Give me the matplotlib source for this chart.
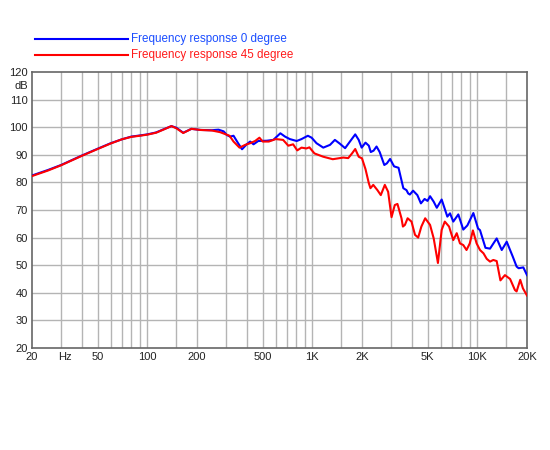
import matplotlib
matplotlib.use("Agg")
import matplotlib.pyplot as plt
from matplotlib.lines import Line2D

plt.rcParams['font.family'] = ['Liberation Sans', 'DejaVu Sans']

# frequency response, 0 degree (Hz, dB)
freq_0 = [20, 25, 30, 40, 50, 60, 70, 80, 90, 100, 113, 125, 140, 150, 165, 185, 210, 246, 270, 290,
          303, 317, 333, 355, 375, 400, 420, 440, 470, 530, 580, 640, 683, 730, 804, 860, 940, 990,
          1060, 1165, 1280, 1370, 1470, 1580, 1700, 1820, 1910, 1990, 2100, 2200, 2260, 2350, 2450,
          2560, 2730, 2830, 2960, 3130, 3330, 3560, 3720, 3810, 3900, 4080, 4330, 4550, 4790, 4990,
          5170, 5440, 5680, 6080, 6580, 6830, 7150, 7670, 8220, 8700, 9460, 10100, 10380, 11200,
          11940, 13100, 14060, 15070, 16400, 17300, 17800, 19000, 20000]
db_0 = [82.5, 84.5, 86.3, 89.7, 92.2, 94.2, 95.6, 96.6, 97.0, 97.4, 98.1, 99.2, 100.4, 99.8, 98.0,
        99.4, 99.0, 98.9, 99.1, 98.5, 97.2, 96.6, 96.9, 94.2, 92.0, 93.8, 94.8, 93.8, 95.0, 95.1,
        95.4, 97.8, 96.6, 95.7, 95.0, 95.7, 96.9, 96.2, 94.2, 92.6, 93.6, 95.4, 94.0, 92.4, 95.0,
        97.4, 95.4, 92.6, 94.4, 93.3, 91.0, 91.5, 93.0, 91.0, 86.3, 86.9, 88.5, 85.8, 85.3, 77.9,
        77.2, 76.0, 75.6, 77.0, 75.4, 72.4, 74.0, 73.3, 75.0, 73.0, 70.8, 73.8, 67.6, 68.8, 65.8,
        68.4, 62.9, 64.4, 68.9, 63.3, 62.7, 56.3, 56.0, 59.7, 55.5, 58.5, 53.1, 49.5, 48.9, 49.2,
        46.4]

# frequency response, 45 degree (Hz, dB)
freq_45 = [20, 25, 30, 40, 50, 60, 70, 80, 90, 100, 113, 125, 140, 150, 165, 185, 210, 246, 276,
           315, 333, 362, 392, 420, 450, 478, 500, 545, 600, 665, 715, 765, 810, 860, 920, 960,
           1030, 1165, 1330, 1540, 1650, 1740, 1820, 1910, 2000, 2100, 2200, 2250, 2340, 2480,
           2600, 2750, 2880, 3020, 3160, 3280, 3470, 3540, 3640, 3780, 3990, 4190, 4380, 4580,
           4830, 5170, 5440, 5770, 6080, 6350, 6740, 7150, 7500, 7850, 8220, 8600, 9000, 9400,
           9900, 10380, 10900, 11400, 11940, 12500, 13100, 13800, 14700, 15800, 16900, 17300,
           18200, 18900, 20000]
db_45 = [82.3, 84.3, 86.2, 89.6, 92.1, 94.1, 95.6, 96.5, 96.9, 97.3, 98.0, 99.1, 100.4, 99.6, 97.9,
         99.4, 99.0, 98.8, 98.2, 96.9, 94.8, 92.6, 93.6, 94.2, 95.0, 96.2, 94.8, 94.8, 95.7, 95.4,
         93.3, 93.8, 91.6, 92.6, 92.3, 92.7, 90.5, 89.3, 88.4, 89.0, 88.8, 90.5, 92.1, 89.3, 88.7,
         84.8, 79.7, 77.9, 79.1, 77.2, 75.4, 79.1, 76.6, 67.4, 71.8, 72.2, 67.0, 64.0, 64.6, 67.0,
         65.8, 61.0, 60.0, 64.0, 67.0, 64.6, 59.7, 50.8, 62.8, 65.8, 64.0, 59.1, 61.6, 57.9, 57.3,
         55.5, 57.9, 62.6, 57.9, 55.5, 54.3, 52.3, 51.3, 51.9, 51.5, 44.5, 46.4, 45.0, 41.0, 40.5,
         44.7, 41.6, 39.0]

grid_x = [30, 40, 50, 60, 70, 80, 90, 100, 150, 200, 300, 400, 500, 600, 700, 800, 900, 1000,
          1500, 2000, 3000, 4000, 5000, 6000, 7000, 8000, 9000, 10000, 15000]
xtick_pos = [20, 31.6, 50, 100, 200, 500, 1000, 2000, 5000, 10000, 20000]
xtick_lab = ['20', 'Hz', '50', '100', '200', '500', '1K', '2K', '5K', '10K', '20K']
ytick_pos = list(range(20, 121, 10))

fig = plt.figure(figsize=(5.5, 4.5), dpi=100)
ax = fig.add_axes([32 / 550, 1 - 348 / 450, 495 / 550, 276 / 450])

ax.set_xscale('log')
ax.set_xlim(20, 20000)
ax.set_ylim(20, 120)

for gx in grid_x:
    ax.axvline(gx, color='#b4b4b4', lw=1, zorder=1)
for gy in ytick_pos[1:-1]:
    ax.axhline(gy, color='#b4b4b4', lw=1, zorder=1)

ax.plot(freq_0, db_0, color='#0000ff', lw=1.5, zorder=3)
ax.plot(freq_45, db_45, color='#ff0000', lw=1.5, zorder=4)

ax.set_xticks(xtick_pos)
ax.set_xticklabels(xtick_lab)
ax.minorticks_off()
ax.set_yticks(ytick_pos)
ax.tick_params(length=0, labelsize=8, pad=3, colors='#222222')
ax.text(-0.008, 115, 'dB', transform=ax.get_yaxis_transform(), ha='right', va='center',
        fontsize=8, color='#222222')

for s in ax.spines.values():
    s.set_color('#666666')
    s.set_linewidth(1.2)

# legend drawn by hand
fig.add_artist(Line2D([35 / 550, 128 / 550], [1 - 39 / 450, 1 - 39 / 450], color='#0000ff', lw=1.5))
fig.add_artist(Line2D([35 / 550, 128 / 550], [1 - 55 / 450, 1 - 55 / 450], color='#ff0000', lw=1.5))
fig.text(131 / 550, 1 - 39 / 450, 'Frequency response 0 degree', color='#1a4dff', fontsize=8.4,
         va='center', ha='left')
fig.text(131 / 550, 1 - 55 / 450, 'Frequency response 45 degree', color='#ff1a1a', fontsize=8.4,
         va='center', ha='left')

fig.savefig('out.png', dpi=100)
